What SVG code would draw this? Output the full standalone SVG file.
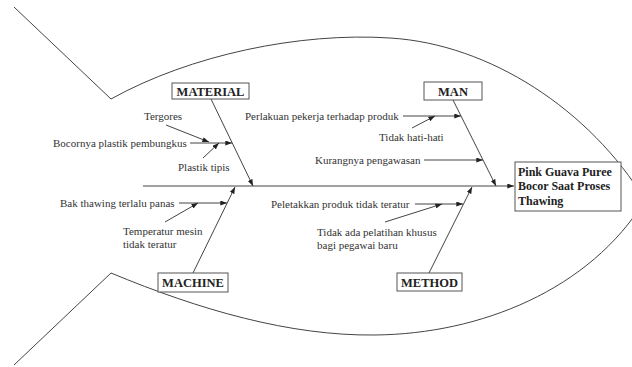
<svg xmlns="http://www.w3.org/2000/svg" width="632" height="367" viewBox="0 0 632 367">
<style>
.ln{stroke:#444;stroke-width:1;fill:none}
.ar{stroke:#444;stroke-width:1;fill:none;marker-end:url(#ah)}
.t{font-family:"Liberation Serif","Times New Roman",serif;font-size:11px;fill:#333}
.b{font-family:"Liberation Serif","Times New Roman",serif;font-size:12.5px;font-weight:bold;fill:#222;text-anchor:middle}
.h{font-family:"Liberation Serif","Times New Roman",serif;font-size:12px;font-weight:bold;fill:#222}
.bx{fill:#fff;stroke:#555;stroke-width:1}
</style>
<defs>
<marker id="ah" viewBox="0 0 8 6" refX="8" refY="3" markerWidth="7" markerHeight="5" orient="auto" markerUnits="userSpaceOnUse">
<path d="M0,0 L8,3 L0,6 z" fill="#222"/>
</marker>
</defs>
<rect width="632" height="367" fill="#fff"/>
<g id="fish">
<path class="ln" d="M14,7 L111,99 C190,55 300,32 390,38 C490,44 590,110 645,200"/>
<path class="ln" d="M14,365 L111,273 C200,310 290,336 375,335 C480,334 590,290 645,200"/>
</g>
<g id="connectors">
<path class="ar" d="M143,186 L514,186"/>
<path class="ar" d="M211,99 L253,186"/>
<path class="ar" d="M453,100 L496,186"/>
<path class="ar" d="M193,273 L235,187"/>
<path class="ar" d="M429,273 L472,187"/>
<path class="ar" d="M190,143 L232,143"/>
<path class="ar" d="M166,125 L209,142"/>
<path class="ar" d="M203,158 L219,143"/>
<path class="ar" d="M403,116 L461,116"/>
<path class="ar" d="M412,128 L435,116"/>
<path class="ar" d="M424,160 L483,160"/>
<path class="ar" d="M179,203 L227,203"/>
<path class="ar" d="M165,222 L198,203"/>
<path class="ar" d="M415,204 L463,204"/>
<path class="ar" d="M385,222 L442,204"/>
</g>
<g id="effect">
<rect class="bx" x="515" y="162" width="106" height="49"/>
<text class="h" x="518" y="176">Pink Guava Puree</text>
<text class="h" x="518" y="190">Bocor Saat Proses</text>
<text class="h" x="518" y="205">Thawing</text>
</g>
<g id="material">
<rect class="bx" x="172" y="83" width="77" height="16"/>
<text class="b" x="210.5" y="95.5">MATERIAL</text>
</g>
<g id="man">
<rect class="bx" x="424" y="82" width="58" height="18"/>
<text class="b" x="453" y="95.5">MAN</text>
</g>
<g id="machine">
<rect class="bx" x="158" y="273" width="70" height="19"/>
<text class="b" x="193" y="287">MACHINE</text>
</g>
<g id="method">
<rect class="bx" x="397" y="273" width="65" height="18"/>
<text class="b" x="429.5" y="286.5">METHOD</text>
</g>
<g id="causes">
<text class="t" x="144" y="120">Tergores</text>
<text class="t" x="53" y="147">Bocornya plastik pembungkus</text>
<text class="t" x="178" y="171">Plastik tipis</text>
<text class="t" x="245" y="120">Perlakuan pekerja terhadap produk</text>
<text class="t" x="379" y="141">Tidak hati-hati</text>
<text class="t" x="315" y="164">Kurangnya pengawasan</text>
<text class="t" x="60" y="207">Bak thawing terlalu panas</text>
<text class="t" x="123" y="235">Temperatur mesin</text>
<text class="t" x="123" y="248">tidak teratur</text>
<text class="t" x="271" y="208">Peletakkan produk tidak teratur</text>
<text class="t" x="317" y="236">Tidak ada pelatihan khusus</text>
<text class="t" x="317" y="249">bagi pegawai baru</text>
</g>
</svg>
